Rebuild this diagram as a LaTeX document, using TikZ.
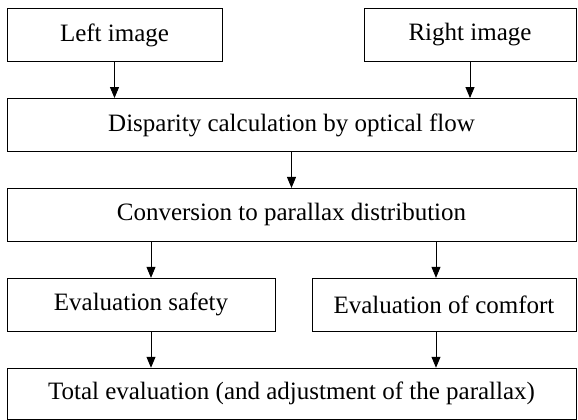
\documentclass[tikz,border=0pt]{standalone}
\usepackage{fontspec}
\setmainfont{Liberation Serif}
\usepackage{tikz}
\usetikzlibrary{arrows.meta,positioning}

\begin{document}
\begin{tikzpicture}[
  box/.style={rectangle,draw=black,line width=0.9pt,fill=white,align=center,minimum height=53pt,inner sep=0pt,font=\fontsize{25}{29}\selectfont},
  arrow/.style={-{Triangle[length=11pt,width=9pt]},line width=0.9pt}
]
\useasboundingbox (0,0) rectangle (578pt,-420pt);
\node[box,minimum width=215pt] (left) at (114.5pt,-35pt) {Left image};
\node[box,minimum width=212pt] (right) at (470pt,-35pt) {Right image};
\node[box,minimum width=569pt] (disp) at (291.5pt,-125pt) {Disparity calculation by optical flow};
\node[box,minimum width=569pt,below=36pt of disp] (conv) {Conversion to parallax distribution};
\node[box,minimum width=268pt,below right=36pt and 0pt of conv.south west] (safety) {Evaluation safety};
\node[box,minimum width=264pt,below left=36pt and 0pt of conv.south east] (comfort) {Evaluation of comfort};
\node[box,minimum width=569pt,minimum height=51pt,below right=36pt and 0pt of safety.south west] (total) {Total evaluation (and adjustment of the parallax)};
\draw[arrow] (left) -- (left |- disp.north);
\draw[arrow] (right) -- (right |- disp.north);
\draw[arrow] (disp) -- (conv);
\draw[arrow] ([xshift=10pt]safety.north |- conv.south) -- ([xshift=10pt]safety.north);
\draw[arrow] ([xshift=-8pt]comfort.north |- conv.south) -- ([xshift=-8pt]comfort.north);
\draw[arrow] ([xshift=10pt]safety.south) -- ([xshift=10pt]safety.south |- total.north);
\draw[arrow] ([xshift=-8pt]comfort.south) -- ([xshift=-8pt]comfort.south |- total.north);
\end{tikzpicture}
\end{document}
